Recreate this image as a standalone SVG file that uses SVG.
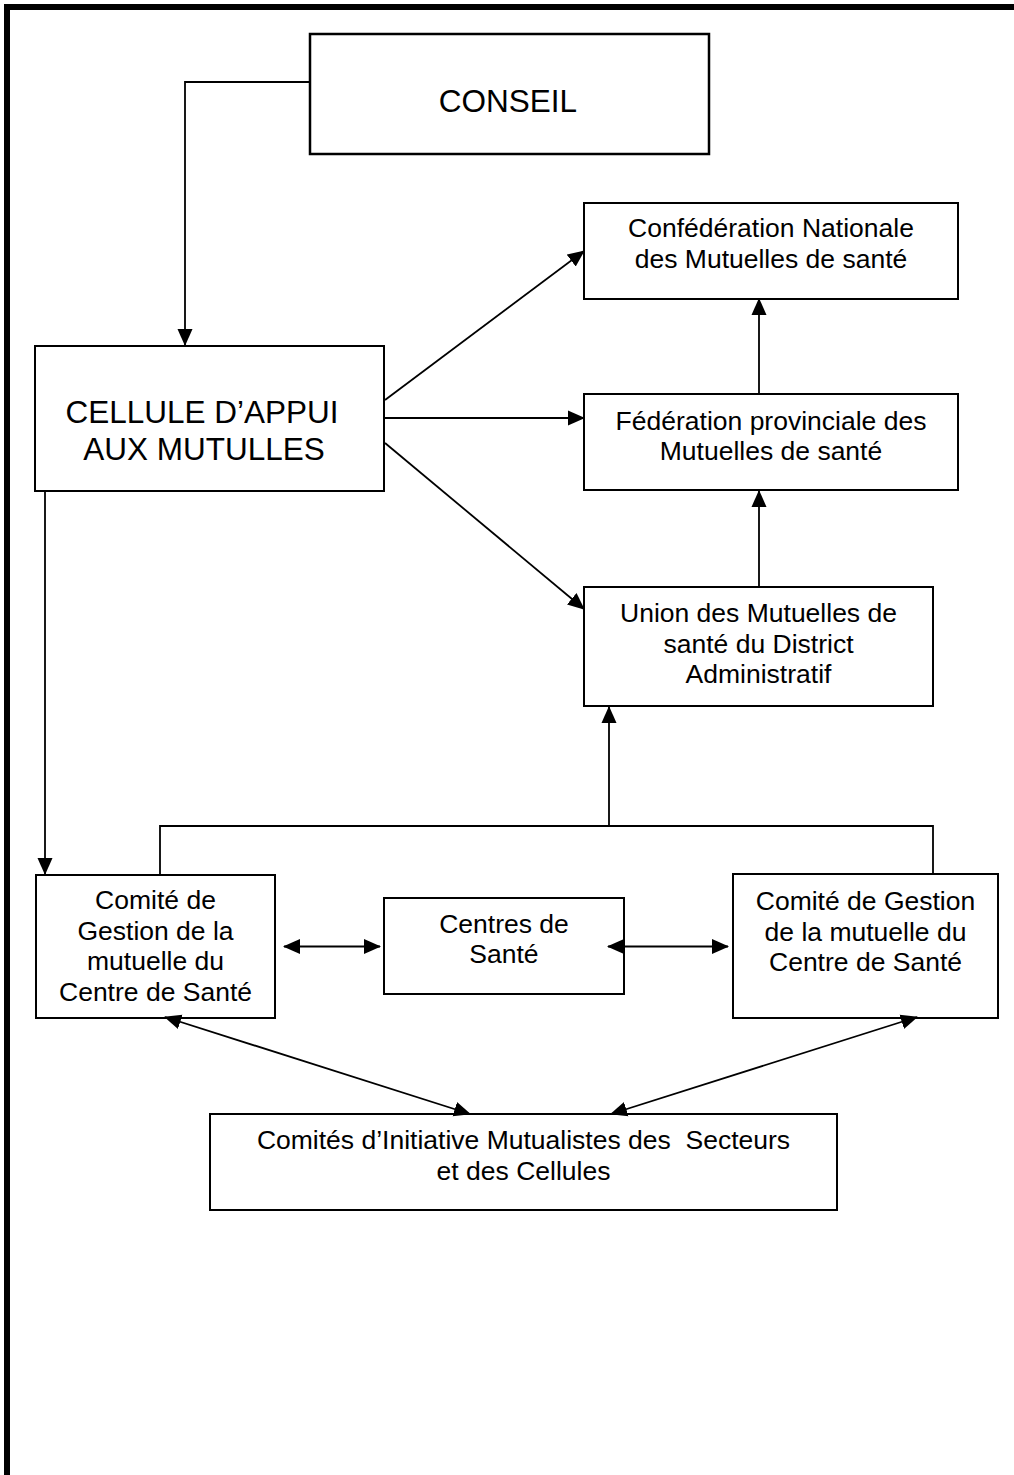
<svg xmlns="http://www.w3.org/2000/svg" width="1014" height="1475" viewBox="0 0 1014 1475">
<style>
.box{fill:#fff;stroke:#000;stroke-width:2}
.t{font-family:"Liberation Sans",Arial,sans-serif;font-size:26.5px;fill:#000;text-anchor:middle}
.tb{font-family:"Liberation Sans",Arial,sans-serif;font-size:31.5px;fill:#000;text-anchor:middle}
.c{fill:none;stroke:#000;stroke-width:1.8}
.a{marker-end:url(#ah)}
.d{marker-end:url(#ah);marker-start:url(#ah)}
</style>
<defs>
<marker id="ah" markerUnits="userSpaceOnUse" markerWidth="17" markerHeight="16" refX="16" refY="8" orient="auto-start-reverse" viewBox="0 0 17 16">
<path d="M0,0.5 L17,8 L0,15.5 z" fill="#000"/>
</marker>
</defs>
<rect width="1014" height="1475" fill="#fff"/>
<g id="frame">
<rect x="4" y="4" width="1010" height="6" fill="#000"/>
<rect x="4" y="4" width="6" height="1471" fill="#000"/>
</g>
<g id="conseil">
<rect class="box" x="310" y="34" width="399" height="120" style="stroke-width:2.5"/>
<text class="tb" x="508" y="112">CONSEIL</text>
</g>
<g id="cellule">
<rect class="box" x="35" y="346" width="349" height="145"/>
<text class="tb" x="202" y="423">CELLULE D’APPUI</text>
<text class="tb" x="204" y="460">AUX MUTULLES</text>
</g>
<g id="confederation">
<rect class="box" x="584" y="203" width="374" height="96"/>
<text class="t" x="771" y="237">Confédération Nationale</text>
<text class="t" x="771" y="268">des Mutuelles de santé</text>
</g>
<g id="federation">
<rect class="box" x="584" y="394" width="374" height="96"/>
<text class="t" x="771" y="430">Fédération provinciale des</text>
<text class="t" x="771" y="460">Mutuelles de santé</text>
</g>
<g id="union">
<rect class="box" x="584" y="587" width="349" height="119"/>
<text class="t" x="758.5" y="622">Union des Mutuelles de</text>
<text class="t" x="758.5" y="652.5">santé du District</text>
<text class="t" x="758.5" y="683">Administratif</text>
</g>
<g id="comite-gauche">
<rect class="box" x="36" y="875" width="239" height="143"/>
<text class="t" x="155.5" y="909">Comité de</text>
<text class="t" x="155.5" y="939.5">Gestion de la</text>
<text class="t" x="155.5" y="970">mutuelle du</text>
<text class="t" x="155.5" y="1000.5">Centre de Santé</text>
</g>
<g id="centres-sante">
<rect class="box" x="384" y="898" width="240" height="96"/>
<text class="t" x="504" y="933">Centres de</text>
<text class="t" x="504" y="963">Santé</text>
</g>
<g id="comite-droite">
<rect class="box" x="733" y="874" width="265" height="144"/>
<text class="t" x="865.5" y="910">Comité de Gestion</text>
<text class="t" x="865.5" y="940.5">de la mutuelle du</text>
<text class="t" x="865.5" y="971">Centre de Santé</text>
</g>
<g id="comites-initiative">
<rect class="box" x="210" y="1114" width="627" height="96"/>
<text class="t" x="523.5" y="1149" style="white-space:pre">Comités d’Initiative Mutualistes des  Secteurs</text>
<text class="t" x="523.5" y="1179.5">et des Cellules</text>
</g>
<g id="connectors">
<polyline class="c a" points="310,82 185,82 185,345"/>
<line class="c a" x1="385" y1="400" x2="584" y2="251"/>
<line class="c a" x1="385" y1="418" x2="584" y2="418"/>
<line class="c a" x1="385" y1="443" x2="584" y2="609"/>
<line class="c a" x1="759" y1="394" x2="759" y2="299"/>
<line class="c a" x1="759" y1="587" x2="759" y2="491"/>
<polyline class="c" points="160,874 160,826 933,826 933,874"/>
<line class="c a" x1="609" y1="826" x2="609" y2="707"/>
<line class="c a" x1="45" y1="491" x2="45" y2="874"/>
<line class="c d" x1="284" y1="946.5" x2="380" y2="946.5"/>
<line class="c d" x1="608" y1="946.5" x2="728" y2="946.5"/>
<line class="c d" x1="165" y1="1017" x2="470" y2="1114"/>
<line class="c d" x1="917" y1="1017" x2="611" y2="1114"/>
</g>
</svg>
